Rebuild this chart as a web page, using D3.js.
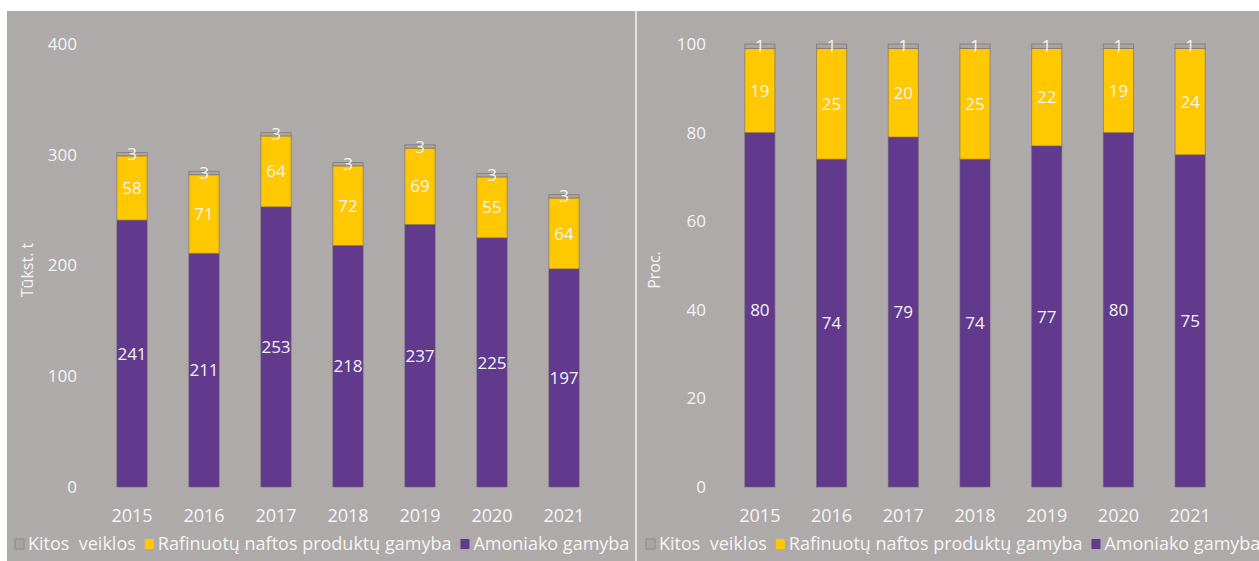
<!DOCTYPE html>
<html>
<head>
<meta charset="utf-8">
<script src="https://cdn.jsdelivr.net/npm/d3@7"></script>
<style>
  html, body { margin: 0; padding: 0; background: #fff; }
  text { font-family: "Open Sans", sans-serif; fill: #f4f4f4; }
</style>
</head>
<body>
<svg id="chart" width="1259" height="561"></svg>
<script>
const years = ['2015', '2016', '2017', '2018', '2019', '2020', '2021'];
const seriesKeys = ['amoniakas', 'rafinuoti', 'kitos'];
const seriesNames = ['Kitos  veiklos', 'Rafinuotų naftos produktų gamyba', 'Amoniako gamyba'];
const legendKeys = ['kitos', 'rafinuoti', 'amoniakas'];

// tūkst. t
const amoniakasT = [241, 211, 253, 218, 237, 225, 197];
const rafinuotiT = [58, 71, 64, 72, 69, 55, 64];
const kitosT = [3, 3, 3, 3, 3, 3, 3];
const ticksT = [0, 100, 200, 300, 400];

// proc.
const amoniakasP = [80, 74, 79, 74, 77, 80, 75];
const rafinuotiP = [19, 25, 20, 25, 22, 19, 24];
const kitosP = [1, 1, 1, 1, 1, 1, 1];
const ticksP = [0, 20, 40, 60, 80, 100];

const color = d3.scaleOrdinal()
  .domain(['amoniakas', 'rafinuoti', 'kitos'])
  .range(['#613a8e', '#ffc800', '#a9a5a5']);

const svg = d3.select('#chart');

// panel background
svg.append('rect').attr('x', 7).attr('y', 11).attr('width', 1252).attr('height', 550)
  .attr('fill', '#aeaaaa');
svg.append('line').attr('x1', 636).attr('x2', 636).attr('y1', 11).attr('y2', 561)
  .attr('stroke', '#e4e2e2').attr('stroke-width', 2);

function drawPanel(opts) {
  const rows = years.map((y, i) => ({
    year: y,
    amoniakas: opts.a[i],
    rafinuoti: opts.r[i],
    kitos: opts.k[i]
  }));

  const x = d3.scaleBand().domain(years).range(opts.xr).paddingInner(0.58).paddingOuter(0.29);
  const y = d3.scaleLinear().domain([0, opts.max]).range([487, 44]);

  const g = svg.append('g');

  const yAxis = g.append('g')
    .attr('transform', `translate(${opts.tickX},0)`)
    .call(d3.axisLeft(y).tickValues(opts.ticks).tickSize(0).tickPadding(0));
  yAxis.select('.domain').remove();
  yAxis.selectAll('text').style('font-family', '"Open Sans", sans-serif')
    .style('font-size', '17px').attr('fill', '#f4f4f4');

  const xAxis = g.append('g')
    .attr('transform', 'translate(0,509)')
    .call(d3.axisBottom(x).tickSize(0).tickPadding(0));
  xAxis.select('.domain').remove();
  xAxis.selectAll('text').style('font-family', '"Open Sans", sans-serif')
    .style('font-size', '18px').attr('fill', '#f4f4f4');

  g.append('text')
    .attr('transform', `translate(${opts.titleX},270) rotate(-90)`)
    .attr('text-anchor', 'middle')
    .attr('dy', '0.35em')
    .style('font-size', '16px')
    .text(opts.title);

  const stack = d3.stack().keys(seriesKeys)(rows);

  const layers = g.selectAll('.layer').data(stack).enter().append('g')
    .attr('class', 'layer')
    .attr('fill', d => color(d.key));

  layers.selectAll('rect').data(d => d).enter().append('rect')
    .attr('x', d => x(d.data.year))
    .attr('width', x.bandwidth())
    .attr('y', d => y(d[1]))
    .attr('height', d => y(d[0]) - y(d[1]))
    .attr('stroke', 'rgba(110,100,100,0.55)')
    .attr('stroke-width', 1);

  layers.selectAll('.val').data(d => d.map(v => ({ v, key: d.key }))).enter().append('text')
    .attr('class', 'val')
    .attr('x', d => x(d.v.data.year) + x.bandwidth() / 2)
    .attr('y', d => (y(d.v[0]) + y(d.v[1])) / 2)
    .attr('dy', '0.36em')
    .attr('text-anchor', 'middle')
    .style('font-size', '17px')
    .text(d => d.v.data[d.key]);

  // legend
  const leg = g.append('g').attr('transform', 'translate(0,544)');
  let lx = opts.legX;
  legendKeys.forEach((k, i) => {
    leg.append('rect').attr('x', lx).attr('y', -5).attr('width', 9).attr('height', 10)
      .attr('fill', color(k))
      .attr('stroke', k === 'kitos' ? '#8f8a8a' : 'none');
    const t = leg.append('text').attr('x', lx + 13).attr('dy', '0.35em')
      .style('font-size', '18px').style('white-space', 'pre')
      .text(seriesNames[i]);
    lx += 13 + t.node().getComputedTextLength() + 9;
  });
}

drawPanel({ a: amoniakasT, r: rafinuotiT, k: kitosT, max: 400, ticks: ticksT,
  xr: [96, 600], tickX: 77, titleX: 27, title: 'Tūkst. t', legX: 15 });
drawPanel({ a: amoniakasP, r: rafinuotiP, k: kitosP, max: 100, ticks: ticksP,
  xr: [724, 1226], tickX: 706, titleX: 654, title: 'Proc.', legX: 646 });
</script>
</body>
</html>
